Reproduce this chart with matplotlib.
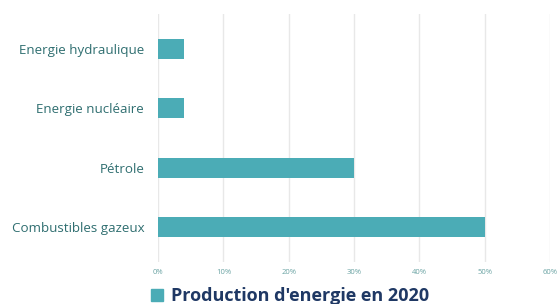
import matplotlib
matplotlib.use("Agg")
import matplotlib.pyplot as plt
from matplotlib.patches import Patch
from matplotlib.ticker import PercentFormatter

# donnees
categories = ["Combustibles gazeux", "Pétrole", "Energie nucléaire", "Energie hydraulique"]
valeurs = [50, 30, 4, 4]
ticks = [0, 10, 20, 30, 40, 50, 60]
serie = "Production d'energie en 2020"

teal = "#4bacb6"
plt.rcParams["font.family"] = ["Open Sans", "DejaVu Sans"]

fig = plt.figure(figsize=(5.57, 3.04), dpi=100)
ax = fig.add_axes([0.2837, 0.138, 0.7037, 0.816])

ax.barh(range(len(categories)), valeurs, height=0.34, color=teal, zorder=3)
ax.set_yticks(range(len(categories)))
ax.set_yticklabels(categories, fontsize=9.6, color="#2f6e70")
ax.set_ylim(-0.59, 3.59)
ax.set_xlim(0, 60)
ax.set_xticks(ticks)
ax.xaxis.set_major_formatter(PercentFormatter(decimals=0))
ax.tick_params(axis="x", labelsize=5.5, colors="#6aa3a3", length=0, pad=5)
ax.tick_params(axis="y", length=0, pad=10)
ax.grid(axis="x", color="#e8e8e8", linewidth=1, zorder=0)
for s in ax.spines.values():
    s.set_visible(False)

fig.legend(handles=[Patch(color=teal, label=serie)], loc="lower center",
           bbox_to_anchor=(0.52, -0.058), frameon=False, handlelength=0.7, handleheight=0.7,
           handletextpad=0.4, prop={"weight": "bold", "size": 13})
fig.legends[0].get_texts()[0].set_color("#1f3864")

fig.savefig("out.png", dpi=100)
